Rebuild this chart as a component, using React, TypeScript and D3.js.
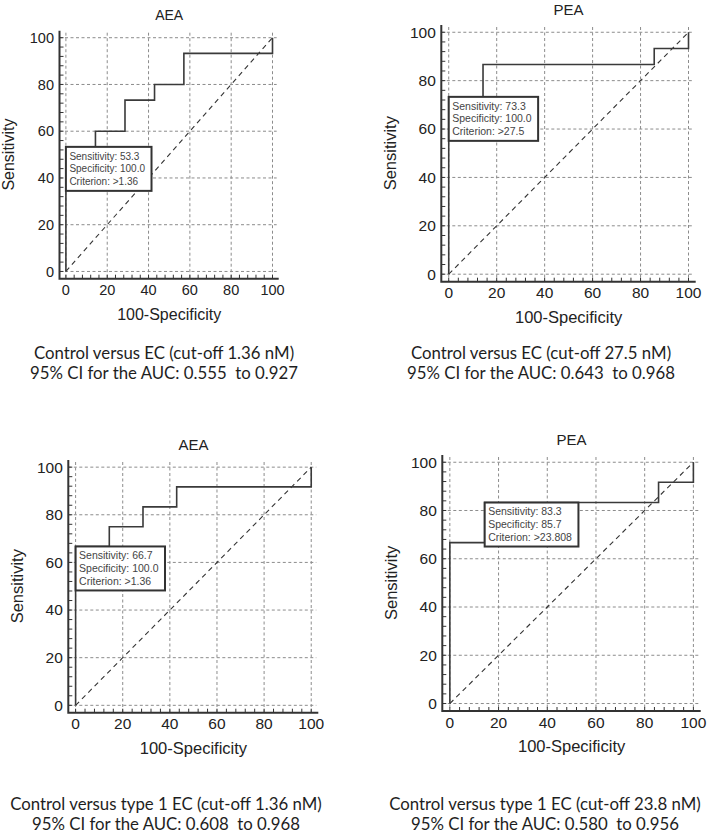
import * as d3 from "d3";
import { useEffect, useRef } from "react";

const WIDTH = 709;
const HEIGHT = 834;

const TICKS = [0, 20, 40, 60, 80, 100];

// ROC corners: 100-specificity (x) and sensitivity (y).
const aeaEcFpr = [0, 0, 14.3, 28.6, 42.9, 57.1, 100];
const aeaEcSens = [0, 53.3, 60, 73.3, 80, 93.3, 100];
const peaEcFpr = [0, 0, 14.3, 85.7, 100];
const peaEcSens = [0, 73.3, 86.7, 93.3, 100];
const aeaT1Fpr = [0, 0, 14.3, 28.6, 42.9, 100];
const aeaT1Sens = [0, 66.7, 75, 83.3, 91.7, 100];
const peaT1Fpr = [0, 0, 14.3, 85.7, 100];
const peaT1Sens = [0, 66.7, 83.3, 91.7, 100];

const titles = ["AEA", "PEA", "AEA", "PEA"];
const fprs = [aeaEcFpr, peaEcFpr, aeaT1Fpr, peaT1Fpr];
const senses = [aeaEcSens, peaEcSens, aeaT1Sens, peaT1Sens];

// The optimal cut-off shown in each box.
const cutSens = [53.3, 73.3, 66.7, 83.3];
const cutSpec = [100.0, 100.0, 100.0, 85.7];
const criteria = [">1.36", ">27.5", ">1.36", ">23.808"];

const comparisons = [
  "Control versus EC (cut-off 1.36 nM)",
  "Control versus EC (cut-off 27.5 nM)",
  "Control versus type 1 EC (cut-off 1.36 nM)",
  "Control versus type 1 EC (cut-off 23.8 nM)",
];
const aucLow = [0.555, 0.643, 0.608, 0.58];
const aucHigh = [0.927, 0.968, 0.968, 0.956];

// Plot frames (axis lines) as laid out in the figure.
const FRAMES = [
  { left: 59.5, top: 30.7, right: 278.7, bottom: 278.7, tick: 14.5, title: 14, label: 16, box: 10 },
  { left: 441.3, top: 25, right: 695.7, bottom: 281.7, tick: 15.5, title: 15, label: 16.5, box: 10.5 },
  { left: 68.3, top: 460, right: 318.3, bottom: 712.7, tick: 15.5, title: 15, label: 16.5, box: 10.5 },
  { left: 442.3, top: 455, right: 700.7, bottom: 711, tick: 15.5, title: 15, label: 16.5, box: 10.5 },
];
const CAPTIONS = [
  { x: 164, y: 359 },
  { x: 541, y: 359 },
  { x: 166, y: 810 },
  { x: 545, y: 810 },
];

const DOMAIN: [number, number] = [-3.1, 103];
const INK = "#333";
const FONT = "'Liberation Sans', Arial, sans-serif";

function RocPanel({ i }: { i: number }) {
  const ref = useRef<SVGGElement>(null);

  useEffect(() => {
    const g = d3.select(ref.current);
    g.selectAll("*").remove();
    const f = FRAMES[i];
    const x = d3.scaleLinear().domain(DOMAIN).range([f.left, f.right]);
    const y = d3.scaleLinear().domain(DOMAIN).range([f.bottom, f.top]);

    // dashed grid at the major ticks
    const grid = g.append("g").attr("stroke", "#8c8c8c").attr("stroke-width", 1).attr("stroke-dasharray", "3,2.5");
    grid
      .selectAll("line.v")
      .data(TICKS)
      .join("line")
      .attr("class", "v")
      .attr("x1", (d) => x(d))
      .attr("x2", (d) => x(d))
      .attr("y1", f.top + 2)
      .attr("y2", f.bottom);
    grid
      .selectAll("line.h")
      .data(TICKS)
      .join("line")
      .attr("class", "h")
      .attr("x1", f.left)
      .attr("x2", f.right - 2)
      .attr("y1", (d) => y(d))
      .attr("y2", (d) => y(d));

    // minor ticks every 4 units, pointing inward
    const minor = d3.range(0, 101, 4);
    const ticks = g.append("g").attr("stroke", INK).attr("stroke-width", 1);
    ticks
      .selectAll("line.mx")
      .data(minor)
      .join("line")
      .attr("class", "mx")
      .attr("x1", (d) => x(d))
      .attr("x2", (d) => x(d))
      .attr("y1", f.bottom)
      .attr("y2", f.bottom - 4);
    ticks
      .selectAll("line.my")
      .data(minor)
      .join("line")
      .attr("class", "my")
      .attr("x1", f.left)
      .attr("x2", f.left + 4)
      .attr("y1", (d) => y(d))
      .attr("y2", (d) => y(d));

    // axis lines
    g.append("path")
      .attr("d", `M${f.left},${f.top}V${f.bottom}H${f.right}`)
      .attr("fill", "none")
      .attr("stroke", INK)
      .attr("stroke-width", 2);

    // chance diagonal
    g.append("line")
      .attr("x1", x(0))
      .attr("y1", y(0))
      .attr("x2", x(100))
      .attr("y2", y(100))
      .attr("stroke", INK)
      .attr("stroke-width", 1.1)
      .attr("stroke-dasharray", "5,4");

    // ROC step curve
    const fpr = fprs[i];
    const line = d3
      .line<number>()
      .x((_, k) => x(fpr[k]))
      .y((d) => y(d))
      .curve(d3.curveStepAfter);
    g.append("path")
      .attr("d", line(senses[i]) ?? "")
      .attr("fill", "none")
      .attr("stroke", "#3a3a3a")
      .attr("stroke-width", 1.6);

    // cut-off box anchored at the criterion point
    const bx = x(100 - cutSpec[i]);
    const by = y(cutSens[i]);
    const box = g.append("g");
    const rect = box
      .append("rect")
      .attr("x", bx)
      .attr("y", by)
      .attr("height", 44)
      .attr("fill", "#fff")
      .attr("stroke", INK)
      .attr("stroke-width", 2);
    const lines = [
      `Sensitivity: ${cutSens[i].toFixed(1)}`,
      `Specificity: ${cutSpec[i].toFixed(1)}`,
      `Criterion: ${criteria[i]}`,
    ];
    const texts = box
      .selectAll("text")
      .data(lines)
      .join("text")
      .attr("x", bx + 3.5)
      .attr("y", (_, k) => by + 12.8 + k * 12.7)
      .attr("font-family", FONT)
      .attr("font-size", f.box)
      .attr("fill", "#444")
      .text((d) => d);
    let w = 0;
    texts.each(function () {
      w = Math.max(w, (this as SVGTextElement).getComputedTextLength());
    });
    rect.attr("width", w + 10);

    // tick labels
    const labels = g.append("g").attr("font-family", FONT).attr("font-size", f.tick).attr("fill", "#222");
    labels
      .selectAll("text.xt")
      .data(TICKS)
      .join("text")
      .attr("class", "xt")
      .attr("x", (d) => x(d))
      .attr("y", f.bottom + 16.5)
      .attr("text-anchor", "middle")
      .text((d) => d);
    labels
      .selectAll("text.yt")
      .data(TICKS)
      .join("text")
      .attr("class", "yt")
      .attr("x", f.left - 5.5)
      .attr("y", (d) => y(d))
      .attr("dy", "0.35em")
      .attr("text-anchor", "end")
      .text((d) => d);

    // title and axis titles
    const midX = (x(0) + x(100)) / 2;
    const midY = (y(0) + y(100)) / 2;
    g.append("text")
      .attr("x", midX)
      .attr("y", f.top - 10.5)
      .attr("text-anchor", "middle")
      .attr("font-family", FONT)
      .attr("font-size", f.title)
      .attr("fill", "#222")
      .text(titles[i]);
    g.append("text")
      .attr("x", midX)
      .attr("y", f.bottom + 41)
      .attr("text-anchor", "middle")
      .attr("font-family", FONT)
      .attr("font-size", f.label)
      .attr("fill", "#222")
      .text("100-Specificity");
    g.append("text")
      .attr("transform", `translate(${f.left - 51},${midY}) rotate(-90)`)
      .attr("dy", "0.35em")
      .attr("text-anchor", "middle")
      .attr("font-family", FONT)
      .attr("font-size", f.label)
      .attr("fill", "#222")
      .text("Sensitivity");

    // caption under the plot
    const c = CAPTIONS[i];
    const cap = g
      .append("text")
      .attr("text-anchor", "middle")
      .attr("font-family", "Lato, 'Open Sans', sans-serif")
      .attr("font-size", 16.8)
      .attr("fill", "#1e1e1e")
      .style("white-space", "pre");
    cap.append("tspan").attr("x", c.x).attr("y", c.y).text(comparisons[i]);
    cap
      .append("tspan")
      .attr("x", c.x)
      .attr("y", c.y + 19.5)
      .text(`95% CI for the AUC: ${aucLow[i].toFixed(3)}  to ${aucHigh[i].toFixed(3)}`);
  }, [i]);

  return <g ref={ref} />;
}

export default function App() {
  return (
    <svg
      width={WIDTH}
      height={HEIGHT}
      viewBox={`0 0 ${WIDTH} ${HEIGHT}`}
      style={{ position: "fixed", left: 0, top: 0, background: "#fff" }}
    >
      {titles.map((_, i) => (
        <RocPanel key={i} i={i} />
      ))}
    </svg>
  );
}
